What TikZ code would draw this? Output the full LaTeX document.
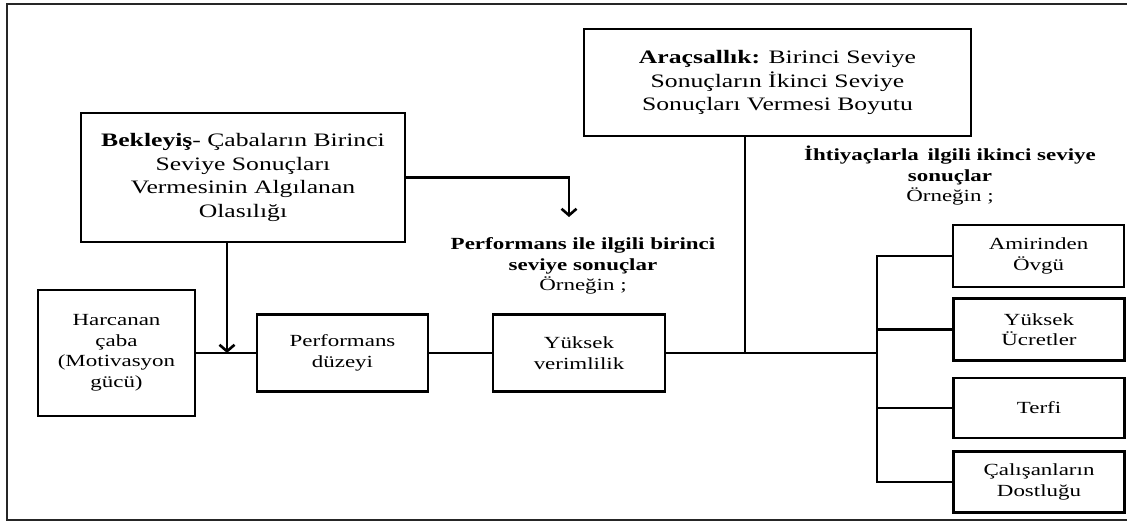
\documentclass[tikz,border=0pt]{standalone}
\usepackage{fontspec}
\setmainfont{Liberation Serif}[FakeStretch=1.35]
\usetikzlibrary{arrows.meta}
\begin{document}
\begin{tikzpicture}[x=1pt,y=-1pt,
  box/.style={draw, line width=2.8pt, inner sep=0pt, align=center, font=\fontsize{17}{20.5}\selectfont},
  bigtext/.style={font=\fontsize{19}{23.5}\selectfont},
  conn/.style={line width=2.6pt},
  arr/.style={conn, -{Straight Barb[length=6.5pt,width=15pt,line width=2.6pt]}},
  lab/.style={align=center, inner sep=0pt, font=\fontsize{17}{20.5}\selectfont}]
\useasboundingbox (0,0) rectangle (1127,522);
% outer frame
\draw[line width=2pt, black!85] (1130,4) -- (7,4) -- (7,520) -- (1130,520);
% boxes
\node[box, bigtext, minimum width=324pt, minimum height=129pt] (bek) at (243,177.5)
  {\textbf{Bekleyiş}- Çabaların Birinci\\ Seviye Sonuçları\\ Vermesinin Algılanan\\ Olasılığı};
\node[box, bigtext, minimum width=387pt, minimum height=107pt] (ara) at (777.5,82.5)
  {\textbf{Araçsallık:} Birinci Seviye\\ Sonuçların İkinci Seviye\\ Sonuçları Vermesi Boyutu};
\node[box, minimum width=157pt, minimum height=126pt] (harc) at (116.5,353)
  {Harcanan\\ çaba\\ (Motivasyon\\ gücü)};
\node[box, minimum width=171pt, minimum height=77pt] (perf) at (342.5,353)
  {Performans\\ düzeyi};
\node[box, minimum width=172pt, minimum height=77pt] (yuk) at (579,353)
  {Yüksek\\ verimlilik};
\node[box, minimum width=171pt, minimum height=62pt] (amir) at (1038.5,256)
  {Amirinden\\ Övgü};
\node[box, minimum width=171pt, minimum height=62pt] (ucr) at (1039,329.5)
  {Yüksek\\ Ücretler};
\node[box, minimum width=171pt, minimum height=60pt] (terfi) at (1039,408)
  {Terfi};
\node[box, minimum width=171pt, minimum height=61pt] (calis) at (1039,482)
  {Çalışanların\\ Dostluğu};
% labels
\node[lab] (perflab) at (583,266)
  {\textbf{Performans ile ilgili birinci}\\ \textbf{seviye sonuçlar}\\ Örneğin ;};
\node[lab] (ihtlab) at (950,176)
  {\textbf{İhtiyaçlarla\, ilgili ikinci seviye}\\ \textbf{sonuçlar}\\ Örneğin ;};
% junction coordinates
\coordinate (bekj) at (227,353);
\coordinate (bekt) at (569,217);
\coordinate (araj) at (745,353);
\coordinate (busj) at (877,353);
% main line
\draw[conn] (harc.east) -- (perf.west);
\draw[conn] (perf.east) -- (yuk.west);
\draw[conn] (yuk.east) -- (busj);
% araçsallık line
\draw[conn] (araj |- ara.south) -- (araj);
% bus
\draw[conn, line cap=rect] (amir.west -| busj) -- (calis.west -| busj);
\draw[conn] (amir.west -| busj) -- (amir.west);
\draw[conn] (ucr.west -| busj) -- (ucr.west);
\draw[conn] (terfi.west -| busj) -- (terfi.west);
\draw[conn] (calis.west -| busj) -- (calis.west);
% bekleyiş arrows
\draw[arr] (bekj |- bek.south) -- (bekj);
\draw[arr] (bek.east) -| (bekt);
\end{tikzpicture}
\end{document}
